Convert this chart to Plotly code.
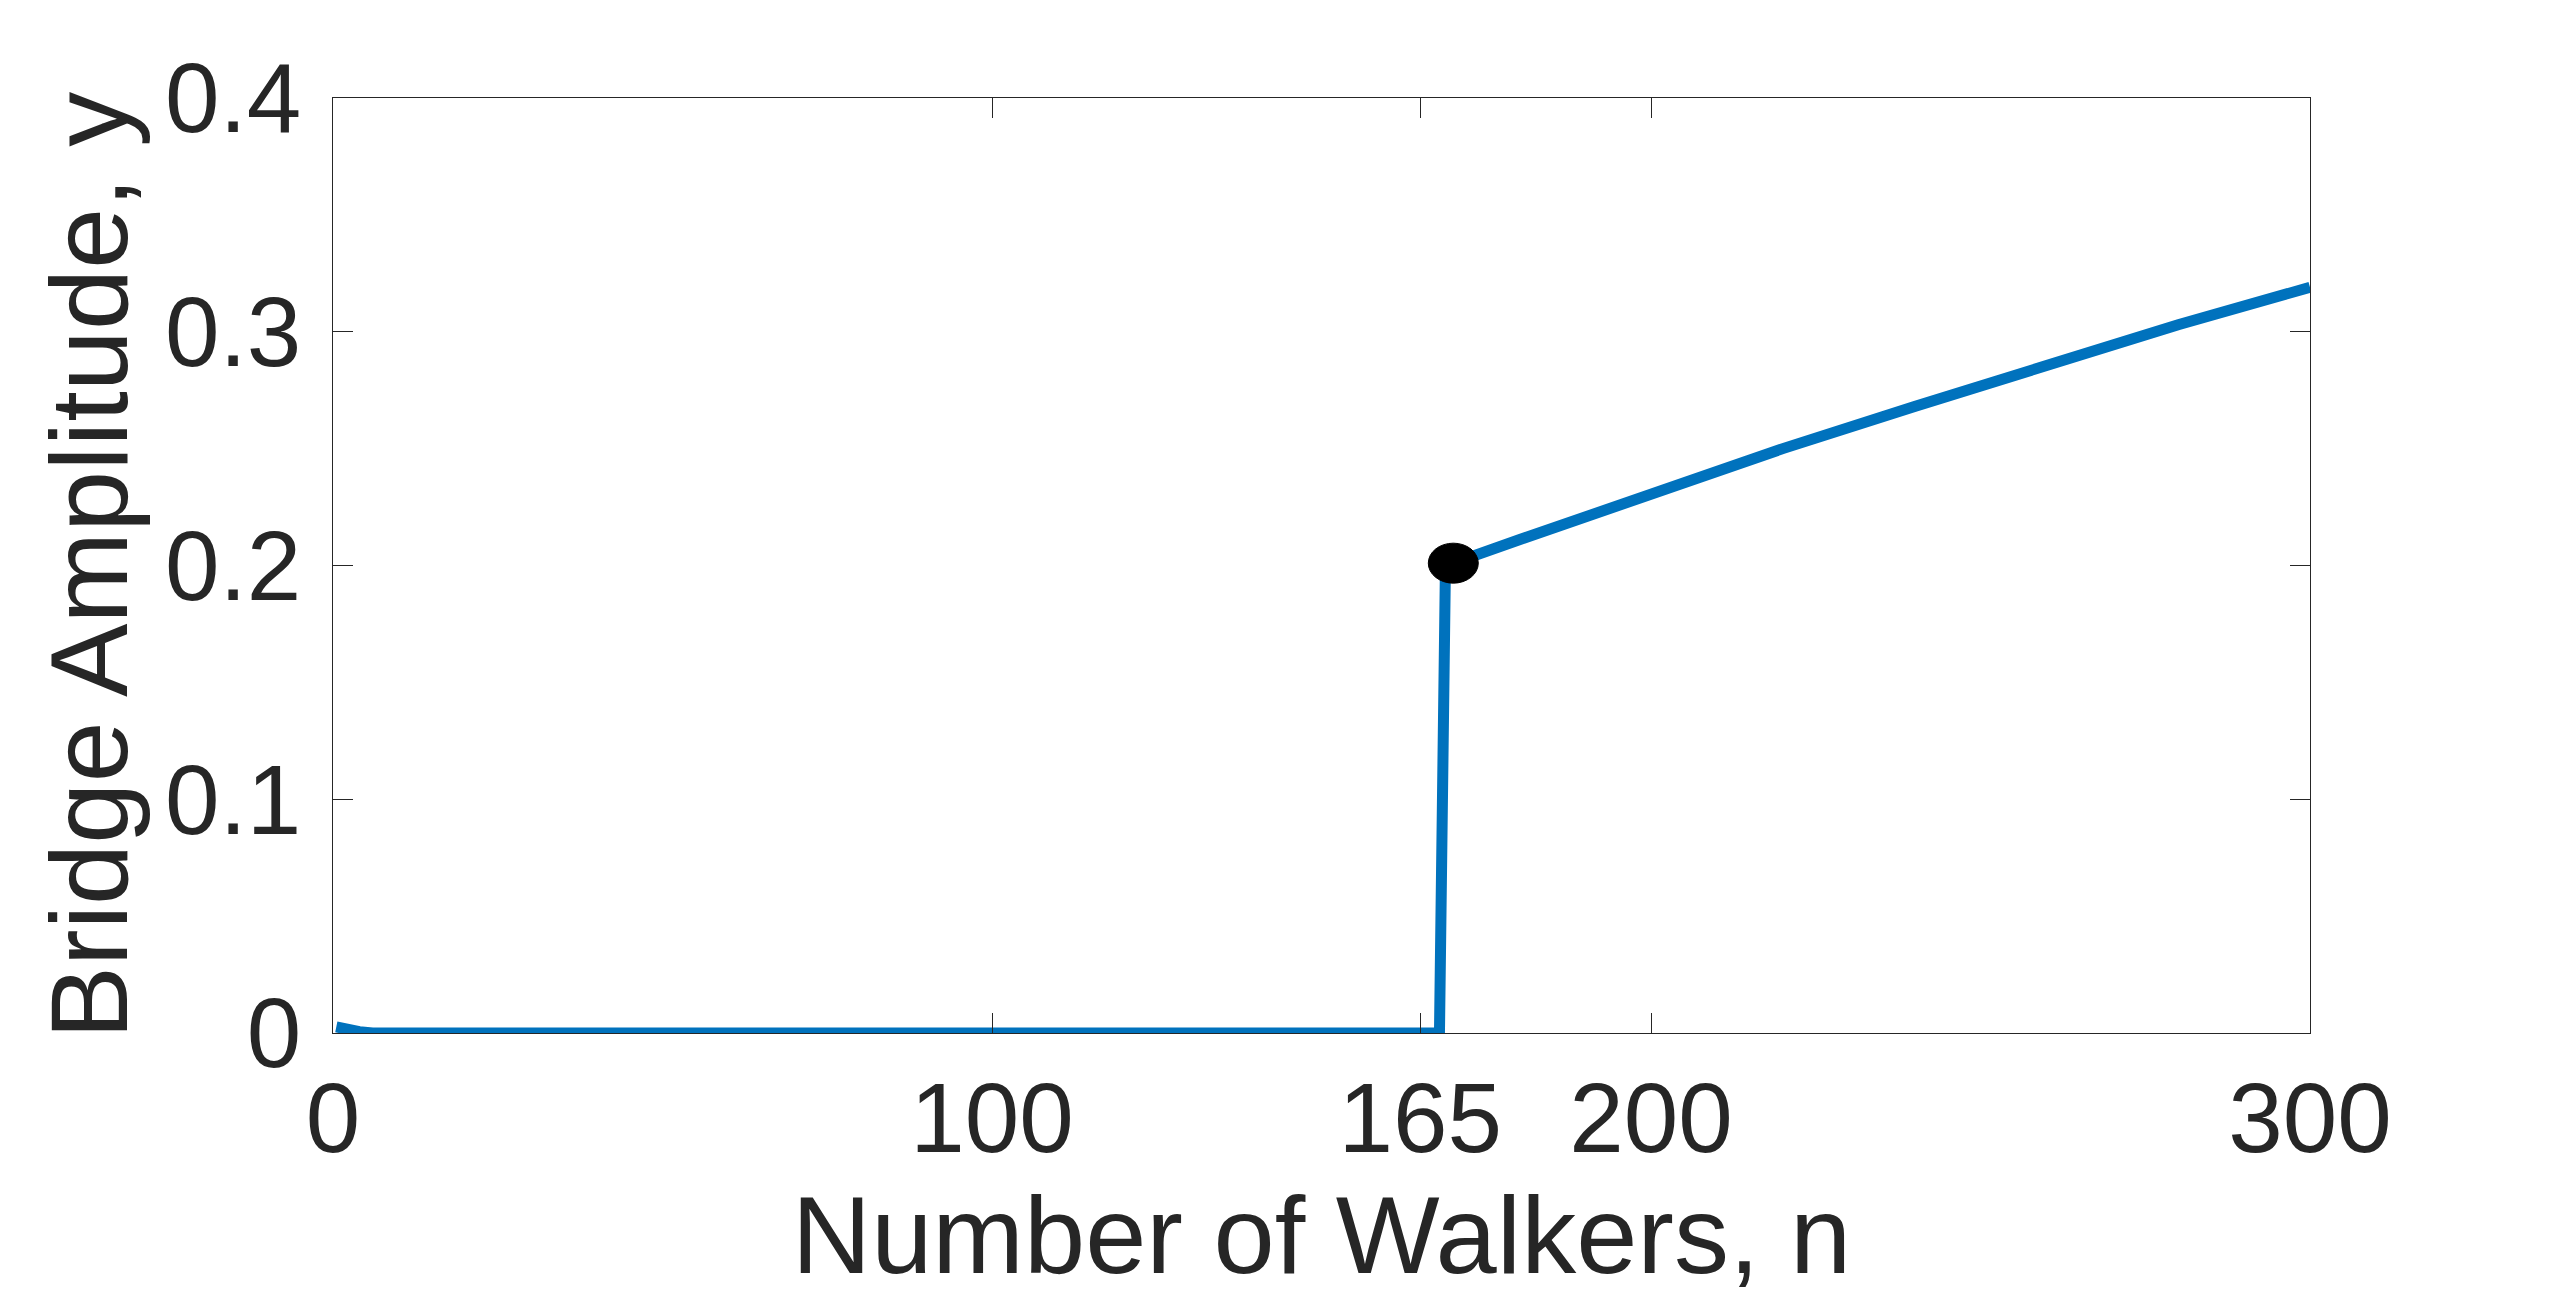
import plotly.graph_objects as go

# bridge amplitude vs number of walkers
walkers = [0.5, 2, 4, 6, 50, 100, 150, 167.9, 168.8, 170, 180, 200, 220, 240, 260, 280, 300]
amplitude = [0.0026, 0.0015, 0.0006, 0.0, 0.0, 0.0, 0.0, 0.0, 0.198, 0.201, 0.211, 0.231,
             0.250, 0.268, 0.286, 0.303, 0.319]

# critical point marked with the black dot
crit_n = 170
crit_y = 0.201

x_ticks = [0, 100, 165, 200, 300]
y_ticks = [0, 0.1, 0.2, 0.3, 0.4]
y_tick_text = ["0", "0.1", "0.2", "0.3", "0.4"]

ink = "#262626"
blue = "#0072BD"
font = "Liberation Sans, Arial, Helvetica, sans-serif"

fig = go.Figure()
fig.add_trace(go.Scatter(x=walkers, y=amplitude, mode="lines", cliponaxis=False,
                         line=dict(color=blue, width=11), hoverinfo="skip"))

# the dot is slightly wider than tall in the original
fig.add_shape(type="circle", xref="x", yref="y", xsizemode="pixel", ysizemode="pixel",
              xanchor=crit_n, yanchor=crit_y, x0=-25, x1=25, y0=-20, y1=20,
              fillcolor="black", line=dict(color="black", width=1), layer="above")

axis_common = dict(showgrid=False, zeroline=False, showline=True, linecolor=ink, linewidth=1.3,
                   mirror="ticks", ticks="inside", ticklen=20, tickwidth=1.3, tickcolor=ink,
                   tickfont=dict(family=font, size=98, color=ink))

fig.update_xaxes(range=[0, 300], tickvals=x_ticks, ticktext=[str(v) for v in x_ticks],
                 title=dict(text="Number of Walkers, n", font=dict(family=font, size=110, color=ink),
                            standoff=22),
                 **axis_common)
fig.update_yaxes(range=[0, 0.4], tickvals=y_ticks, ticktext=y_tick_text, ticklabelstandoff=11,
                 title=dict(text="Bridge Amplitude, y", font=dict(family=font, size=110, color=ink),
                            standoff=0),
                 **axis_common)

# page body has an 8px margin, so the figure is a bit smaller than the window
fig.update_layout(width=2536, height=1290, showlegend=False,
                  margin=dict(l=325, r=234, t=90, b=265),
                  paper_bgcolor="white", plot_bgcolor="white",
                  font=dict(family=font, color=ink))

fig.write_html("out.html")
